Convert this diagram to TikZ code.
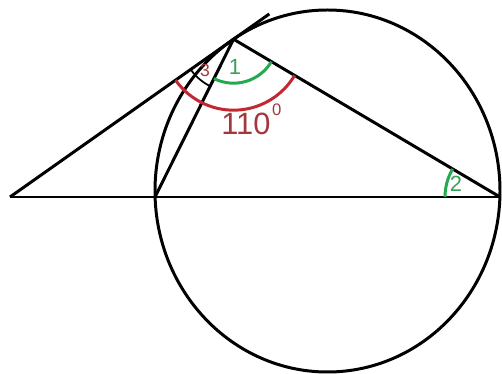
\documentclass[tikz,border=0pt]{standalone}
\usepackage{fontspec}
\setmainfont{Liberation Sans}
\usetikzlibrary{angles,calc}
\definecolor{PaintGreen}{RGB}{35,170,80}
\definecolor{PaintRed}{RGB}{195,40,50}
\definecolor{LabRed}{RGB}{165,55,60}
\definecolor{LabGreen}{RGB}{55,160,90}
\tikzset{
  ln/.style={draw=black,line width=1.7pt},
  angG/.style={draw=PaintGreen,line width=1.7pt},
  angR/.style={draw=PaintRed,line width=1.7pt},
  angK/.style={draw=black,line width=1pt},
}
\tikzset{lab/.style={inner sep=0pt,font=\fontsize{12.5}{13}\selectfont}}

\begin{document}
\begin{tikzpicture}
\useasboundingbox (0,0) rectangle (10.04,7.48);
\coordinate (O) at (6.55,3.66);
\coordinate (E) at (0.20,3.54);
\coordinate (B) at (3.10,3.54);
\coordinate (D) at (10.00,3.54);
\coordinate (A) at ($(O)+(123:3.45 and 3.62)$);
\coordinate (T) at ($(E)!1.16!(A)$);
% circle and lines
\draw[ln] (O) ellipse [x radius=3.45, y radius=3.62];
\draw[ln] (E) -- (D);
\draw[ln] (E) -- (T);
\draw[ln] (A) -- (B);
\draw[ln] (A) -- (D);
% angles
\pic[angR, angle radius=1.42cm] {angle = E--A--D};
\pic[angK, angle radius=1.05cm] {angle = E--A--B};
\pic[angG, angle radius=0.88cm] {angle = B--A--D};
\pic[angG, angle radius=1.1cm] {angle = A--D--B};
\node[lab,text=LabGreen] (n1) at (4.70,6.14) {1};
\node[lab,text=LabRed,font=\fontsize{10}{11}\selectfont] (n3) at (4.10,6.08) {3};
\node[lab,text=LabGreen] (n2) at (9.12,3.80) {2};
\node[lab,text=LabRed,anchor=base west,font=\fontsize{17.5}{18}\selectfont] (n110) at (4.42,4.78)
  {110\hspace{1pt}\raisebox{11pt}{\fontsize{9.5}{10}\selectfont 0}};
\end{tikzpicture}
\end{document}
